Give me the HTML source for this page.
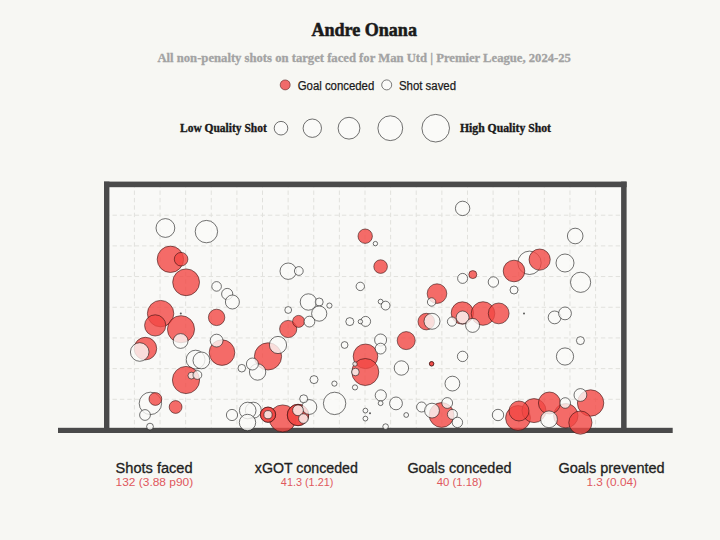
<!DOCTYPE html>
<html><head><meta charset="utf-8">
<style>
html,body{margin:0;padding:0;background:#f7f7f3;}
body{width:720px;height:540px;overflow:hidden;font-family:"Liberation Sans",sans-serif;}
svg{display:block;}
.r{fill:rgba(242,71,67,0.8);stroke:rgba(40,10,10,0.8);stroke-width:0.7;}
.w{fill:rgba(250,250,247,0.8);stroke:rgba(20,20,20,0.85);stroke-width:0.7;}
.g line{stroke:#e1e1dd;stroke-width:1;stroke-dasharray:4.4 3;stroke-dashoffset:3.9;}
.slab{font-family:"Liberation Serif",serif;font-weight:bold;}
.sans{font-family:"Liberation Sans",sans-serif;}
</style></head><body>
<svg width="720" height="540" viewBox="0 0 720 540">
<rect width="720" height="540" fill="#f7f7f3"/>
<text x="364.2" y="35.9" text-anchor="middle" class="slab" font-size="18.4" fill="#1a1a1a" stroke="#1a1a1a" stroke-width="0.55" textLength="105.5" lengthAdjust="spacingAndGlyphs">Andre Onana</text>
<text x="364.2" y="62" text-anchor="middle" class="slab" font-size="12.6" fill="#a3a3a3" stroke="#a3a3a3" stroke-width="0.3" textLength="413.5" lengthAdjust="spacingAndGlyphs">All non-penalty shots on target faced for Man Utd | Premier League, 2024-25</text>
<circle cx="285.2" cy="84.9" r="5" fill="#f06a6a" stroke="rgba(70,20,20,0.75)" stroke-width="0.7"/>
<text x="297.7" y="89.8" class="sans" font-size="12.5" fill="#1a1a1a" stroke="#1a1a1a" stroke-width="0.25" textLength="76.6" lengthAdjust="spacingAndGlyphs">Goal conceded</text>
<circle cx="386.7" cy="84.9" r="5" fill="#fafaf8" stroke="#444" stroke-width="0.7"/>
<text x="399" y="89.8" class="sans" font-size="12.5" fill="#1a1a1a" stroke="#1a1a1a" stroke-width="0.25" textLength="57" lengthAdjust="spacingAndGlyphs">Shot saved</text>
<text x="180" y="132.3" class="slab" font-size="11.7" fill="#1a1a1a" stroke="#1a1a1a" stroke-width="0.35" textLength="86.7" lengthAdjust="spacingAndGlyphs">Low Quality Shot</text>
<text x="460" y="132.3" class="slab" font-size="11.7" fill="#1a1a1a" stroke="#1a1a1a" stroke-width="0.35" textLength="91" lengthAdjust="spacingAndGlyphs">High Quality Shot</text>
<g fill="#fafaf8" stroke="#333" stroke-width="0.7">
<circle cx="281" cy="128.2" r="6.8"/><circle cx="312.3" cy="128.2" r="9.2"/><circle cx="349" cy="128.2" r="10.9"/><circle cx="390.3" cy="128.2" r="12.4"/><circle cx="435.7" cy="128.2" r="13.8"/>
</g>
<!-- goal -->
<rect x="109" y="187" width="512" height="241" fill="#f9f9f7"/>
<g class="g">
<line x1="134.42" y1="187" x2="134.42" y2="428"/>
<line x1="160.04" y1="187" x2="160.04" y2="428"/>
<line x1="185.66" y1="187" x2="185.66" y2="428"/>
<line x1="211.28" y1="187" x2="211.28" y2="428"/>
<line x1="236.90" y1="187" x2="236.90" y2="428"/>
<line x1="262.52" y1="187" x2="262.52" y2="428"/>
<line x1="288.14" y1="187" x2="288.14" y2="428"/>
<line x1="313.76" y1="187" x2="313.76" y2="428"/>
<line x1="339.38" y1="187" x2="339.38" y2="428"/>
<line x1="365.00" y1="187" x2="365.00" y2="428"/>
<line x1="390.62" y1="187" x2="390.62" y2="428"/>
<line x1="416.24" y1="187" x2="416.24" y2="428"/>
<line x1="441.86" y1="187" x2="441.86" y2="428"/>
<line x1="467.48" y1="187" x2="467.48" y2="428"/>
<line x1="493.10" y1="187" x2="493.10" y2="428"/>
<line x1="518.72" y1="187" x2="518.72" y2="428"/>
<line x1="544.34" y1="187" x2="544.34" y2="428"/>
<line x1="569.96" y1="187" x2="569.96" y2="428"/>
<line x1="595.58" y1="187" x2="595.58" y2="428"/>
<line x1="109" y1="215.19" x2="621" y2="215.19"/>
<line x1="109" y1="245.88" x2="621" y2="245.88"/>
<line x1="109" y1="276.56" x2="621" y2="276.56"/>
<line x1="109" y1="307.25" x2="621" y2="307.25"/>
<line x1="109" y1="337.94" x2="621" y2="337.94"/>
<line x1="109" y1="368.62" x2="621" y2="368.62"/>
<line x1="109" y1="399.31" x2="621" y2="399.31"/>
</g>
<rect x="58" y="427.8" width="614.7" height="5.2" fill="#4a4a4a"/>
<rect x="104" y="181.6" width="5.4" height="249" fill="#4a4a4a"/>
<rect x="621.1" y="181.6" width="5.5" height="249" fill="#4a4a4a"/>
<rect x="104" y="181.6" width="522.6" height="5.6" fill="#4a4a4a"/>
<circle cx="165.4" cy="228" r="9.4" class="w"/>
<circle cx="206.4" cy="231.6" r="11.2" class="w"/>
<circle cx="170.4" cy="259.3" r="13.2" class="r"/>
<circle cx="181.1" cy="259.2" r="6.8" class="r"/>
<circle cx="186.1" cy="282.3" r="13.4" class="r"/>
<circle cx="216.6" cy="286.4" r="4.8" class="w"/>
<circle cx="227.2" cy="294" r="5.6" class="w"/>
<circle cx="232.4" cy="302" r="7" class="w"/>
<circle cx="365.2" cy="236.2" r="7.2" class="r"/>
<circle cx="375.4" cy="243.6" r="2.2" class="w"/>
<circle cx="380.6" cy="266.6" r="6.8" class="r"/>
<circle cx="288.2" cy="271.2" r="8.2" class="w"/>
<circle cx="298.8" cy="271" r="4.4" class="w"/>
<circle cx="360.3" cy="286.4" r="4.2" class="w"/>
<circle cx="462.6" cy="208.4" r="7.2" class="w"/>
<circle cx="462.6" cy="278.4" r="5" class="w"/>
<circle cx="472.8" cy="274.6" r="4" class="r"/>
<circle cx="493.4" cy="282" r="5.2" class="w"/>
<circle cx="575.2" cy="236" r="7.8" class="w"/>
<circle cx="529.5" cy="262.8" r="11.7" class="w"/>
<circle cx="539.65" cy="259.6" r="10.6" class="r"/>
<circle cx="514" cy="271" r="10.8" class="r"/>
<circle cx="565" cy="263" r="9" class="w"/>
<circle cx="580.6" cy="282.3" r="10.1" class="w"/>
<circle cx="514" cy="290" r="4" class="w"/>
<circle cx="160.6" cy="313.6" r="13.2" class="r"/>
<circle cx="155.2" cy="325.4" r="10.6" class="r"/>
<circle cx="181" cy="329.2" r="13.55" class="r"/>
<circle cx="180.8" cy="313.5" r="1.0" fill="#5a5a5a"/>
<circle cx="216.6" cy="317.4" r="8.2" class="r"/>
<circle cx="180.6" cy="341" r="7.4" class="w"/>
<circle cx="145.4" cy="348.6" r="11.3" class="r"/>
<circle cx="139.7" cy="352" r="9.3" class="w"/>
<circle cx="222" cy="352.6" r="12.8" class="r"/>
<circle cx="216.6" cy="340.6" r="6.4" class="w"/>
<circle cx="195.6" cy="359.6" r="9.4" class="w"/>
<circle cx="201.4" cy="360.4" r="8.4" class="w"/>
<circle cx="241.8" cy="368.2" r="3.8" class="w"/>
<circle cx="186" cy="380" r="13.6" class="r"/>
<circle cx="191.4" cy="375.6" r="3.4" class="w"/>
<circle cx="197.4" cy="375" r="4.4" class="w"/>
<circle cx="308.4" cy="302" r="8.2" class="w"/>
<circle cx="319.2" cy="302" r="4" class="w"/>
<circle cx="329.4" cy="305.6" r="2.6" class="w"/>
<circle cx="288.2" cy="310" r="3.4" class="w"/>
<circle cx="319.2" cy="313.6" r="7.6" class="w"/>
<circle cx="288.2" cy="329" r="8.6" class="r"/>
<circle cx="298.6" cy="321.4" r="6" class="r"/>
<circle cx="309.4" cy="321.6" r="5.4" class="w"/>
<circle cx="349.8" cy="321.6" r="4" class="w"/>
<circle cx="365.6" cy="321.4" r="5" class="w"/>
<circle cx="360.4" cy="321.6" r="2.2" class="w"/>
<circle cx="268" cy="356.4" r="13.6" class="r"/>
<circle cx="278" cy="345" r="8.6" class="w"/>
<circle cx="344.6" cy="345" r="3.4" class="w"/>
<circle cx="257.6" cy="372" r="8.2" class="w"/>
<circle cx="252.4" cy="364" r="6" class="w"/>
<circle cx="365.5" cy="356.3" r="12.3" class="r"/>
<circle cx="365.3" cy="372" r="13.5" class="r"/>
<circle cx="355" cy="364" r="2.2" class="w"/>
<circle cx="355.4" cy="372" r="3.8" class="w"/>
<circle cx="437" cy="293.6" r="9.8" class="r"/>
<circle cx="431.6" cy="302" r="4.2" class="w"/>
<circle cx="380.6" cy="301.6" r="2.4" class="w"/>
<circle cx="385.6" cy="305.6" r="4.4" class="w"/>
<circle cx="462.4" cy="313" r="11.2" class="r"/>
<circle cx="483" cy="313.5" r="11.8" class="r"/>
<circle cx="498.7" cy="313.4" r="10.4" class="r"/>
<circle cx="462.6" cy="317.4" r="6.4" class="w"/>
<circle cx="472.6" cy="325.4" r="7" class="w"/>
<circle cx="452" cy="321.6" r="4.6" class="w"/>
<circle cx="426.3" cy="321.6" r="8.3" class="r"/>
<circle cx="432" cy="321.3" r="8" class="w"/>
<circle cx="406.2" cy="340.6" r="9" class="r"/>
<circle cx="380.6" cy="340" r="6" class="w"/>
<circle cx="380.6" cy="348.6" r="5.4" class="w"/>
<circle cx="462.6" cy="356.4" r="5.2" class="w"/>
<circle cx="431.6" cy="363.8" r="2.2" class="r"/>
<circle cx="431.6" cy="363.8" r="2.2" class="r"/>
<circle cx="401.4" cy="368" r="7.2" class="w"/>
<circle cx="524" cy="313.4" r="1.0" fill="#5a5a5a"/>
<circle cx="554.6" cy="317.4" r="6.4" class="w"/>
<circle cx="565" cy="313.4" r="6.4" class="w"/>
<circle cx="580.4" cy="340.6" r="4" class="w"/>
<circle cx="565" cy="356.5" r="8.6" class="w"/>
<circle cx="150.4" cy="403.4" r="11.2" class="w"/>
<circle cx="155.4" cy="399" r="6.4" class="r"/>
<circle cx="145" cy="415" r="5.4" class="w"/>
<circle cx="150" cy="426.6" r="3.4" class="w"/>
<circle cx="175.6" cy="407" r="6.4" class="r"/>
<circle cx="232" cy="415" r="5.6" class="w"/>
<circle cx="314" cy="379.6" r="4" class="w"/>
<circle cx="334.4" cy="383.6" r="2.6" class="w"/>
<circle cx="355" cy="387.4" r="2.6" class="w"/>
<circle cx="334.6" cy="403.4" r="11.2" class="w"/>
<circle cx="253.3" cy="410.2" r="8" class="w"/>
<circle cx="247.7" cy="410.5" r="8.3" class="w"/>
<circle cx="247.5" cy="422.5" r="8.2" class="w"/>
<circle cx="282.7" cy="418.4" r="13.5" class="r"/>
<circle cx="268" cy="414.7" r="7.6" class="r"/>
<circle cx="268" cy="414.7" r="7.6" class="r"/>
<circle cx="268" cy="414.7" r="4.1" class="w"/>
<circle cx="298" cy="415" r="10.7" class="r"/>
<circle cx="298" cy="415" r="10.7" class="r"/>
<circle cx="309.4" cy="407" r="7.4" class="w"/>
<circle cx="298" cy="410.3" r="5.4" class="w"/>
<circle cx="303.4" cy="418.6" r="4.8" class="w"/>
<circle cx="303.7" cy="398.8" r="4" class="w"/>
<circle cx="365.4" cy="410.6" r="2.4" class="w"/>
<circle cx="370" cy="413.2" r="1.0" fill="#5a5a5a"/>
<circle cx="365.4" cy="418.6" r="2.4" class="w"/>
<circle cx="452.4" cy="383.6" r="7.4" class="w"/>
<circle cx="380.8" cy="395.4" r="5.6" class="w"/>
<circle cx="380.6" cy="403.2" r="2.4" class="w"/>
<circle cx="396" cy="403.4" r="6.4" class="w"/>
<circle cx="406.2" cy="415" r="2.4" class="w"/>
<circle cx="385.6" cy="426.6" r="2.8" class="w"/>
<circle cx="421.6" cy="407" r="5" class="w"/>
<circle cx="441.6" cy="415" r="12.4" class="r"/>
<circle cx="432" cy="410.6" r="7.4" class="w"/>
<circle cx="447.2" cy="403" r="5.4" class="w"/>
<circle cx="452.4" cy="414.4" r="5" class="w"/>
<circle cx="457.4" cy="422.4" r="5.2" class="w"/>
<circle cx="498" cy="415" r="5.7" class="w"/>
<circle cx="518" cy="418" r="12.4" class="r"/>
<circle cx="534" cy="410.6" r="12" class="r"/>
<circle cx="519" cy="411" r="10" class="r"/>
<circle cx="565.8" cy="415.7" r="12.2" class="r"/>
<circle cx="549.4" cy="403" r="11" class="r"/>
<circle cx="565.2" cy="403" r="5.3" class="w"/>
<circle cx="549" cy="419.3" r="8.4" class="w"/>
<circle cx="590.6" cy="403" r="13.2" class="r"/>
<circle cx="580.4" cy="395" r="6.4" class="w"/>
<circle cx="580.4" cy="422.6" r="11.6" class="r"/>
<g class="sans" text-anchor="middle">
<text x="154.1" y="472.5" font-size="13.8" fill="#1f1f1f" stroke="#1f1f1f" stroke-width="0.3" textLength="77" lengthAdjust="spacingAndGlyphs">Shots faced</text>
<text x="154.4" y="485.8" font-size="11.6" fill="#e0585d" textLength="77.7" lengthAdjust="spacingAndGlyphs">132 (3.88 p90)</text>
<text x="306.3" y="472.5" font-size="13.8" fill="#1f1f1f" stroke="#1f1f1f" stroke-width="0.3" textLength="103" lengthAdjust="spacingAndGlyphs">xGOT conceded</text>
<text x="307.1" y="485.8" font-size="11.6" fill="#e0585d" textLength="52.5" lengthAdjust="spacingAndGlyphs">41.3 (1.21)</text>
<text x="459.4" y="472.5" font-size="13.8" fill="#1f1f1f" stroke="#1f1f1f" stroke-width="0.3" textLength="104" lengthAdjust="spacingAndGlyphs">Goals conceded</text>
<text x="459.4" y="485.8" font-size="11.6" fill="#e0585d" textLength="45.5" lengthAdjust="spacingAndGlyphs">40 (1.18)</text>
<text x="611.5" y="472.5" font-size="13.8" fill="#1f1f1f" stroke="#1f1f1f" stroke-width="0.3" textLength="106.2" lengthAdjust="spacingAndGlyphs">Goals prevented</text>
<text x="611.7" y="485.8" font-size="11.6" fill="#e0585d" textLength="50.6" lengthAdjust="spacingAndGlyphs">1.3 (0.04)</text>
</g>
</svg>
</body></html>
